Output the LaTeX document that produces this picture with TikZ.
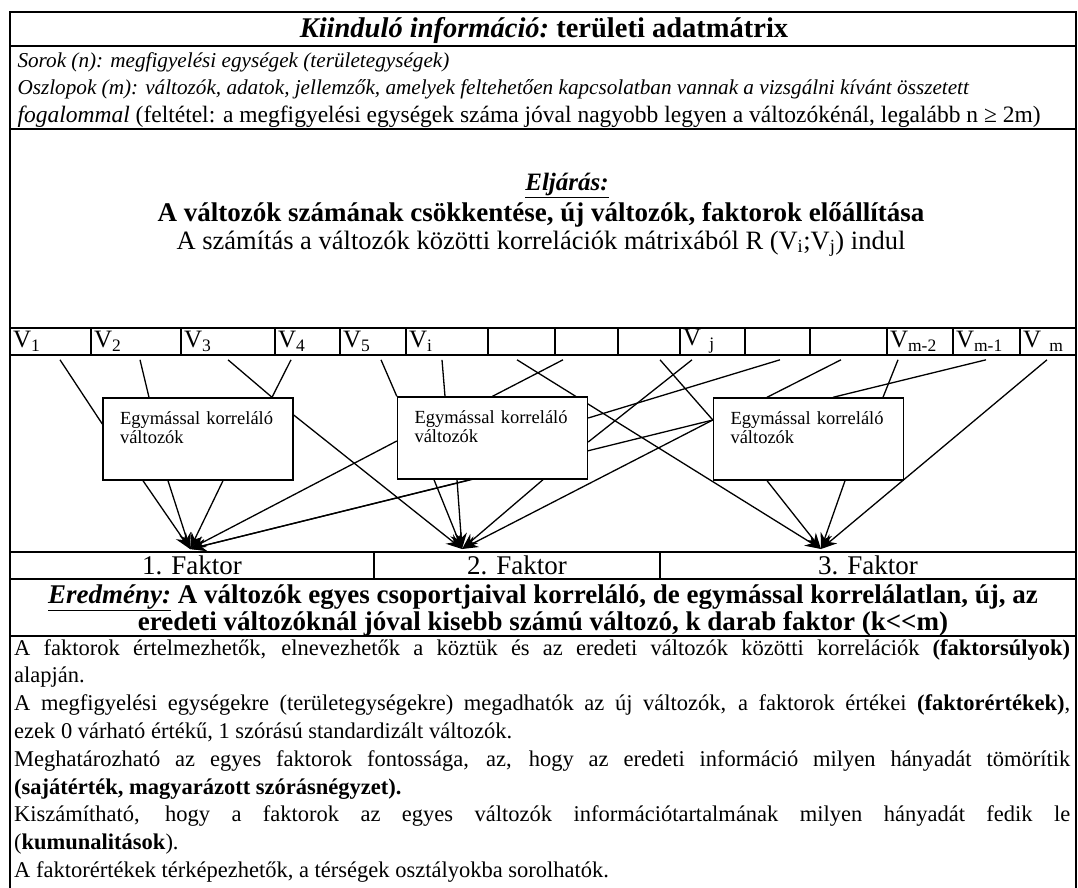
\documentclass[tikz,border=0pt]{standalone}
\usepackage{fontspec}
\setmainfont{Liberation Serif}
\usetikzlibrary{arrows.meta,backgrounds}

\hyphenpenalty=10000
\tolerance=9999

\tikzset{
  keret/.style={line width=1.6pt},
  kapocs/.style={line width=1.3pt},
  nyil/.style={kapocs,-{Stealth[length=16pt,width=12pt]}},
  valtozo/.style={draw,line width=1.6pt,inner xsep=3pt,inner ysep=0pt,minimum height=27pt,align=left,font=\fontsize{25}{25}\selectfont},
  doboz/.style={draw,fill=white,line width=1.4pt,inner xsep=17pt,inner ysep=8pt,text width=156pt,text height=18pt,text depth=48pt,align=left,font=\fontsize{18.5}{19}\selectfont},
  faktor/.style={draw,line width=1.6pt,inner sep=0pt,minimum height=27pt,font=\fontsize{27}{27}\selectfont},
}

\begin{document}
\begin{tikzpicture}[x=1pt,y=-1pt]

	\useasboundingbox (0,0) rectangle (1078,888);

	% Keret
	\draw[keret] (10,900) -- (10,12) -- (1076,12) -- (1076,900);
	\draw[keret] (10,46) -- (1076,46);
	\draw[keret] (10,129) -- (1076,129);
	\draw[keret] (10,636) -- (1076,636);

	% Kiinduló információ
	\node[anchor=base,font=\fontsize{28.5}{32}\selectfont] (cim) at (544,38)
		{\underline{\textbf{\textit{Kiinduló információ:}}} \textbf{területi adatmátrix}};
	\node[anchor=base west,font=\fontsize{21.2}{24}\selectfont] (sorok) at (14,68)
		{\textit{Sorok (n): megfigyelési egységek (területegységek)}};
	\node[anchor=base west,font=\fontsize{21.2}{24}\selectfont] (oszlopok) at (14,95)
		{\textit{Oszlopok (m): változók, adatok, jellemzők, amelyek feltehetően kapcsolatban vannak a vizsgálni kívánt összetett}};
	\node[anchor=base west,font=\fontsize{23.5}{24}\selectfont] (feltetel) at (14,122)
		{\textit{fogalommal} (feltétel: a megfigyelési egységek száma jóval nagyobb legyen a változókénál, legalább n ≥ 2m)};

	% Eljárás
	\node[anchor=base,font=\fontsize{25}{30}\selectfont] (eljaras) at (567,190)
		{\underline{\textbf{\textit{Eljárás:}}}};
	\node[anchor=base,font=\fontsize{27}{30}\selectfont] (csokkentes) at (541,221)
		{\textbf{A változók számának csökkentése, új változók, faktorok előállítása}};
	\node[anchor=base,font=\fontsize{26.5}{30}\selectfont] (szamitas) at (541,249)
		{A számítás a változók közötti korrelációk mátrixából R (V\textsubscript{i};V\textsubscript{j}) indul};

	% Változók sora
	\foreach \bal/\jobb/\nev/\cimke in {
		10/91/v1/{V\textsubscript{1}}, 91/181/v2/{V\textsubscript{2}}, 181/275/v3/{V\textsubscript{3}},
		275/340/v4/{V\textsubscript{4}}, 340/406/v5/{V\textsubscript{5}}, 406/488/vi/{V\textsubscript{i}},
		488/555/u1/{}, 555/618/u2/{}, 618/680/u3/{}, 680/745/vj/{V \textsubscript{j}},
		745/810/u4/{}, 810/887/u5/{}, 887/953/vm2/{V\textsubscript{m-2}},
		953/1020/vm1/{V\textsubscript{m-1}}, 1020/1076/vm/{V \textsubscript{m}}}{
		\pgfmathsetmacro\szel{\jobb-\bal-6}
		\node[valtozo,text width=\szel pt] (\nev) at ({(\bal+\jobb)/2},341.5) {\cimke};
	}

	% Egymással korreláló változók
	\node[doboz] (box1) at (198,439) {Egymással korreláló\\változók};
	\node[doboz] (box2) at (492.5,438) {Egymással korreláló\\változók};
	\node[doboz] (box3) at (808.5,439) {Egymással korreláló\\változók};

	% Faktorok
	\coordinate (f1) at (190,549);
	\coordinate (f2) at (462,549);
	\coordinate (f3) at (821,549);
	\node[faktor,minimum width=364pt] (fak1) at (192,565.5) {1. Faktor};
	\node[faktor,minimum width=286pt] (fak2) at (517,565.5) {2. Faktor};
	\node[faktor,minimum width=416pt] (fak3) at (868,565.5) {3. Faktor};

	% Vonalak a dobozok mögött
	\begin{scope}[on background layer]
		\draw[kapocs] ([xshift=9.5pt,yshift=-4pt]v1.south) -- ([yshift=15pt]box1.west);
		\draw[kapocs] ([xshift=4pt,yshift=-4pt]v2.south) -- ([xshift=-49pt]box1.north);
		\draw[kapocs] ([yshift=-4pt]v3.south) -- ([xshift=74pt]box1.north);
		\draw[kapocs] ([xshift=-16.5pt,yshift=-4pt]v4.south) -- ([xshift=74pt]box1.north);
		\draw[kapocs] ([xshift=8pt,yshift=-4pt]v5.south) -- (box2.north west);
		\draw[kapocs] ([xshift=-5pt,yshift=-4pt]vi.south) -- ([xshift=-47.5pt]box2.north);
		\draw[kapocs] ([xshift=-23.5pt,yshift=-4pt]u2.south) -- (box2.north);
		\draw[kapocs] ([xshift=-20.5pt,yshift=-4pt]vj.south) -- ([yshift=-4pt]box2.east);
		\draw[kapocs] ([xshift=2.5pt,yshift=-4pt]u4.south) -- ([yshift=20pt]box2.east);
		\draw[kapocs] ([xshift=11pt,yshift=-4pt]u3.south) -- ([yshift=19pt]box3.west);
		\draw[kapocs] ([xshift=-7.5pt,yshift=-4pt]u5.south) -- ([xshift=-41.5pt]box3.north);
		\draw[kapocs] ([xshift=-22pt,yshift=-4pt]vm2.south) -- ([xshift=74.5pt]box3.north);
		\draw[kapocs] ([xshift=-0.5pt,yshift=-4pt]vm1.south) -- ([xshift=24.5pt]box3.north);

		% nyilak a faktorokhoz
		\draw[nyil] ([xshift=-55pt]box1.south) -- (f1);
		\draw[nyil] ([xshift=-30pt]box1.south) -- (f1);
		\draw[nyil] ([xshift=25pt]box1.south) -- (f1);
		\draw[nyil] ([yshift=-3pt]box2.west) -- (f1);
		\draw[nyil] ([xshift=-22.5pt]box2.south) -- (f1);
		\draw[nyil] ([yshift=19pt]box3.west) -- (f1);

		\draw[nyil] ([yshift=24pt]box1.east) -- (f2);
		\draw[nyil] ([xshift=-58.5pt]box2.south) -- (f2);
		\draw[nyil] ([xshift=-35.5pt]box2.south) -- (f2);
		\draw[nyil] ([xshift=50.5pt]box2.south) -- (f2);
		\draw[nyil] ([yshift=19pt]box3.west) -- (f2);

		\draw[nyil] ([xshift=-4.5pt,yshift=-4pt]u1.south) -- (f3);
		\draw[nyil] ([xshift=-41.5pt]box3.south) -- (f3);
		\draw[nyil] ([xshift=36.5pt]box3.south) -- (f3);
		\draw[nyil] ([xshift=-1pt,yshift=-4pt]vm.south) -- (f3);
	\end{scope}

	% Eredmény
	\node[anchor=base,font=\fontsize{27}{30}\selectfont] (eredmeny) at (543,603)
		{\underline{\textbf{\textit{Eredmény:}}} \textbf{A változók egyes csoportjaival korreláló, de egymással korrelálatlan, új, az}};
	\node[anchor=base,font=\fontsize{27}{30}\selectfont] (eredmeny2) at (543,630)
		{\textbf{eredeti változóknál jóval kisebb számú változó, k darab faktor (k{<}{<}m)}};

	\node[anchor=base west,inner sep=0pt,text width=1056pt,align=justify,
		font=\fontsize{22.5}{27.8}\selectfont] (leiras) at (14,655)
		{A faktorok értelmezhetők, elnevezhetők a köztük és az eredeti változók közötti korrelációk \textbf{(faktorsúlyok)}\linebreak
		alapján.\\
		A megfigyelési egységekre (területegységekre) megadhatók az új változók, a faktorok értékei \textbf{(faktorértékek)},\linebreak
		ezek 0 várható értékű, 1 szórású standardizált változók.\\
		Meghatározható az egyes faktorok fontossága, az, hogy az eredeti információ milyen hányadát tömörítik\linebreak
		\textbf{(sajátérték, magyarázott szórásnégyzet).}\\
		Kiszámítható, hogy a faktorok az egyes változók információtartalmának milyen hányadát fedik le\linebreak
		(\textbf{kumunalitások}).\\
		A faktorértékek térképezhetők, a térségek osztályokba sorolhatók.};

\end{tikzpicture}
\end{document}
